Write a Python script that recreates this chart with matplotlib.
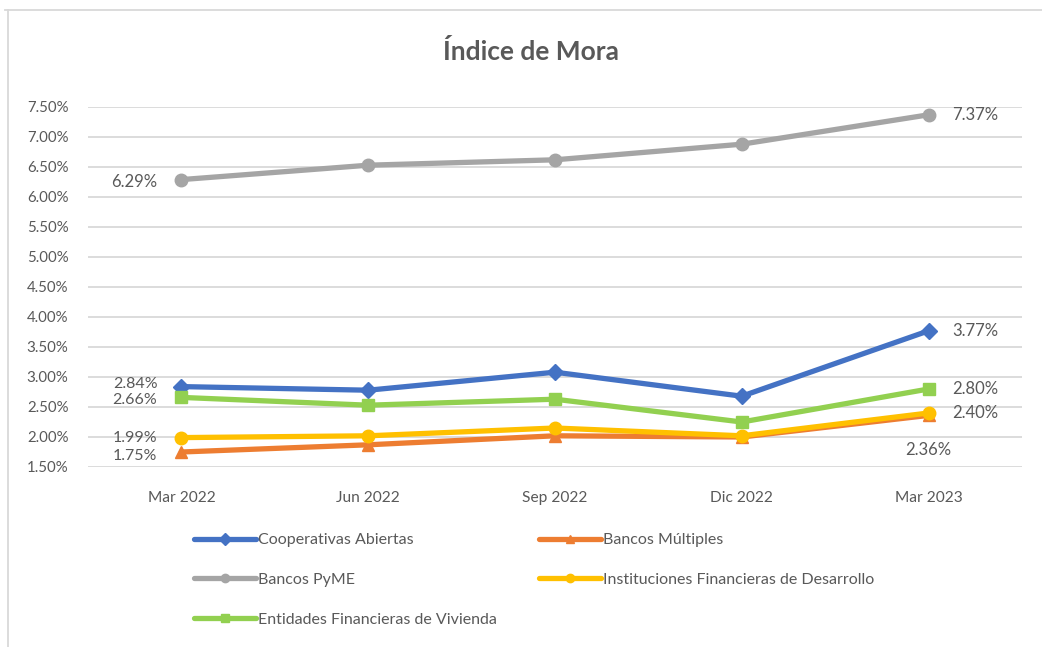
import matplotlib
matplotlib.use("Agg")
import matplotlib.pyplot as plt
from matplotlib.lines import Line2D

categories = ["Mar 2022", "Jun 2022", "Sep 2022", "Dic 2022", "Mar 2023"]
series_names = ["Cooperativas Abiertas", "Bancos Múltiples", "Bancos PyME",
                "Instituciones Financieras de Desarrollo", "Entidades Financieras de Vivienda"]
coop = [2.84, 2.78, 3.08, 2.68, 3.77]
multiples = [1.75, 1.87, 2.02, 2.00, 2.36]
pyme = [6.29, 6.53, 6.62, 6.88, 7.37]
ifd = [1.99, 2.02, 2.15, 2.02, 2.40]
vivienda = [2.66, 2.53, 2.63, 2.25, 2.80]
yticks = [1.5, 2.0, 2.5, 3.0, 3.5, 4.0, 4.5, 5.0, 5.5, 6.0, 6.5, 7.0, 7.5]

colors = ["#4472C4", "#ED7D31", "#A5A5A5", "#FFC000", "#92D050"]
markers = ["D", "^", "o", "o", "s"]
data = [coop, multiples, pyme, ifd, vivienda]

plt.rcParams['font.family'] = ['Lato', 'DejaVu Sans']
txt = "#595959"

fig = plt.figure(figsize=(10.42, 6.47), dpi=100)
ax = fig.add_axes([88/1042, 1-467/647, (1022-88)/1042, 360/647])

x = list(range(len(categories)))
handles = []
for vals, c, m, name in zip(data, colors, markers, series_names):
    h, = ax.plot(x, vals, color=c, lw=3.8, marker=m, markersize=9 if m != "D" else 8,
                 markerfacecolor=c, markeredgecolor=c, label=name, solid_capstyle='round')
    handles.append(h)

ax.set_xlim(-0.5, len(categories) - 0.5)
ax.set_ylim(1.5, 7.5)
ax.set_yticks(yticks)
ax.set_yticklabels([f"{v:.2f}%" for v in yticks])
ax.set_xticks(x)
ax.set_xticklabels(categories)
ax.grid(axis='y', color="#D9D9D9", lw=1.3)
ax.set_axisbelow(True)
for s in ax.spines.values():
    s.set_visible(False)
ax.tick_params(axis='both', length=0, colors=txt)
ax.tick_params(axis='y', pad=14, labelsize=10.8)
ax.tick_params(axis='x', pad=17, labelsize=11.2)

def lab(xi, v, dx, dy, ha, fs=12):
    ax.annotate(f"{v:.2f}%", (xi, v), xytext=(dx, dy), textcoords='offset pixels',
                ha=ha, va='center', color=txt, fontsize=fs)

lab(0, pyme[0], -24, -2, 'right')
lab(4, pyme[4], 24, 0, 'left')
lab(0, coop[0], -24, 3, 'right', 11.5)
lab(0, vivienda[0], -24, -3, 'right', 11.5)
lab(0, ifd[0], -24, 0, 'right', 11.5)
lab(0, multiples[0], -24, -4, 'right', 11.5)
lab(4, coop[4], 24, 0, 'left')
lab(4, vivienda[4], 24, 0, 'left')
lab(4, ifd[4], 24, 0, 'left')
lab(4, multiples[4], 0, -35, 'center')

fig.text(531/1042, 1-52/647, "Índice de Mora", ha='center', va='center',
         fontsize=19, fontweight='bold', color=txt)

order1 = [0, 2, 4]
order2 = [1, 3]
kw = dict(frameon=False, fontsize=11.5, handlelength=3.9, handletextpad=0.1,
          labelspacing=1.6, labelcolor=txt, loc='upper left', borderaxespad=0, borderpad=0)
fig.legend([handles[i] for i in order1], [series_names[i] for i in order1],
           bbox_to_anchor=(194/1042, 1-533/647), **kw)
fig.legend([handles[i] for i in order2], [series_names[i] for i in order2],
           bbox_to_anchor=(539/1042, 1-533/647), **kw)
for lg in fig.legends:
    for l in lg.get_lines():
        l.set_markersize(6)
        l.set_linewidth(3.8)

fig.add_artist(Line2D([5/1042, 1], [1-10/647, 1-10/647], color="#D9D9D9", lw=1.3))
fig.add_artist(Line2D([8/1042, 8/1042], [0, 1-10/647], color="#D9D9D9", lw=1.3))

fig.savefig("out.png", dpi=100)
